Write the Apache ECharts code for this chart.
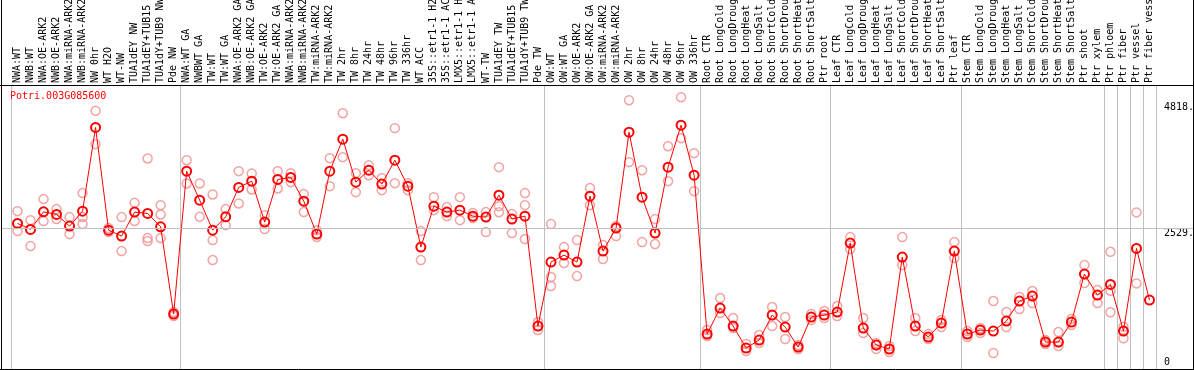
<!DOCTYPE html>
<html>
<head>
<meta charset="utf-8">
<script src="https://cdn.jsdelivr.net/npm/echarts@6/dist/echarts.min.js"></script>
<style>
html,body{margin:0;padding:0;background:#fff;}
#chart{width:1194px;height:370px;}
</style>
</head>
<body>
<div id="chart"></div>
<script>
const geneName = 'Potri.003G085600';

const categories = [
  'NWA:WT','NWB:WT','NWA:OE-ARK2','NWB:OE-ARK2','NWA:miRNA-ARK2','NWB:miRNA-ARK2','NW 0hr','WT H2O','WT-NW','TUA1dEY NW','TUA1dEY+TUB15 NW','TUA1dY+TUB9 NW','Pde NW',
  'NWA:WT GA','NWBWT GA','TW:WT','TW:WT GA','NWA:OE-ARK2 GA','NWB:OE-ARK2 GA','TW:OE-ARK2','TW:OE-ARK2 GA','NWA:miRNA-ARK2 GA','NWB:miRNA-ARK2 GA','TW:miRNA-ARK2','TW:miRNA-ARK2 GA','TW 2hr','TW 8hr','TW 24hr','TW 48hr','TW 96hr','TW 336hr','WT ACC','35S::etr1-1 H2O','35S::etr1-1 ACC','LMX5::etr1-1 H2O','LMX5::etr1-1 ACC','WT-TW','TUA1dEY TW','TUA1dEY+TUB15 TW','TUA1dY+TUB9 TW','Pde TW',
  'OW:WT','OW:WT GA','OW:OE-ARK2','OW:OE-ARK2 GA','OW:miRNA-ARK2','OW:miRNA-ARK2 GA','OW 2hr','OW 8hr','OW 24hr','OW 48hr','OW 96hr','OW 336hr',
  'Root CTR','Root LongCold','Root LongDrought','Root LongHeat','Root LongSalt','Root ShortCold','Root ShortDrought','Root ShortHeat','Root ShortSalt','Ptr root',
  'Leaf CTR','Leaf LongCold','Leaf LongDrought','Leaf LongHeat','Leaf LongSalt','Leaf ShortCold','Leaf ShortDrought','Leaf ShortHeat','Leaf ShortSalt','Ptr leaf',
  'Stem CTR','Stem LongCold','Stem LongDrought','Stem LongHeat','Stem LongSalt','Stem ShortCold','Stem ShortDrought','Stem ShortHeat','Stem ShortSalt','Ptr shoot','Ptr xylem',
  'Ptr phloem','Ptr fiber','Ptr vessel','Ptr fiber vessel'
];

// index of first category of each group (separator lines)
const groupStarts = [0, 13, 41, 53, 63, 73, 84, 85, 86, 87];

const meanValues = [
  2615,2506,2826,2779,2566,2839,4363,2493,2384,2821,2797,2553,965,
  3567,3039,2493,2735,3271,3385,2639,3416,3453,3021,2421,3567,4150,3367,3585,3331,3767,3294,2184,2930,2821,2857,2748,2730,3130,2694,2748,746,
  1911,2038,1911,3112,2111,2530,4277,3094,2439,3640,4404,3494,
  601,1074,746,346,491,946,728,364,910,946,
  1001,2257,710,400,328,2002,746,546,801,2111,
  601,673,655,837,1201,1292,455,455,819,1693,1310,
  1505,655,2160,1219
];

const rep1 = [
  2839,2675,3058,2876,2730,3167,4665,2530,2730,2990,3798,2948,1001,
  3767,3343,3143,2876,3567,3525,2766,3567,3531,3149,2493,3804,4623,3531,3676,3440,4350,3349,2475,3094,2912,3094,2803,2821,3640,2785,3167,819,
  2603,2184,2311,3258,2220,2566,4859,3585,2694,4022,4914,3895,
  673,1256,892,419,582,1092,910,400,965,1019,
  1110,2366,892,437,382,2366,892,601,855,2275,
  655,710,1201,1001,1274,1383,491,637,874,1856,1401,
  2098,733,2816,null
];

const rep2 = [
  2475,2202,2657,2694,2420,2730,4059,2460,2111,2657,2348,2779,928,
  3343,2735,2311,2584,2979,3234,2512,3252,3367,2821,2366,3294,3822,3185,3494,3221,3349,3221,1947,2857,2748,2675,2712,2457,2930,2439,2948,673,
  1638,1893,1656,2948,1966,2384,3731,2275,2239,3385,4168,3203,
  564,983,710,291,437,746,510,328,855,892,
  928,2148,619,328,273,1856,655,510,728,1984,
  546,619,255,728,1056,1165,419,382,764,1529,1165,
  1389,522,1523,null
];

const rep3 = [
  null,null,null,null,null,2603,null,null,null,null,2293,2348,null,
  null,null,1947,null,null,null,null,null,null,null,null,null,null,null,null,null,null,null,null,null,null,null,null,null,2820,null,2330,null,
  1474,null,null,null,null,null,null,null,null,null,null,null,
  null,null,null,null,null,null,null,null,null,null,
  null,null,null,null,null,null,null,null,null,null,
  null,null,null,null,null,null,null,null,null,null,null,
  996,null,null,null
];

const yTopLabels = [2529, 4818];
const yBottomLabels = [0];
const refLineValue = 2529;

const FONT = 'DejaVu Sans Mono';
const Y_MIN = -36, Y_MAX = 5136;
const isGroupStart = (idx) => groupStarts.indexOf(idx) >= 0;

const chart = echarts.init(document.getElementById('chart'), null, {renderer: 'canvas'});

const repStyle = {
  type: 'scatter',
  symbol: 'circle',
  symbolSize: 9,
  itemStyle: {color: 'transparent', borderColor: '#f08c8c', borderWidth: 1.5},
  z: 2,
  silent: true
};

chart.setOption({
  animation: false,
  backgroundColor: '#fff',
  title: {
    text: geneName,
    left: 10, top: 91, padding: 0,
    textStyle: {color: '#ff0000', fontFamily: FONT, fontSize: 10, fontWeight: 'normal'}
  },
  grid: [
    {left: 11, right: 38, top: 85, bottom: 1, containLabel: false, outerBoundsMode: 'none'},
    {left: 1, right: 1, top: 85, bottom: 1, containLabel: false, outerBoundsMode: 'none'}
  ],
  xAxis: [
    {
      type: 'category',
      gridIndex: 0,
      position: 'top',
      data: categories,
      boundaryGap: true,
      axisLine: {show: false},
      axisTick: {show: true, inside: false, length: 85, interval: isGroupStart,
        lineStyle: {color: '#c0c0c0', width: 1}},
      splitLine: {show: true, interval: isGroupStart,
        lineStyle: {color: '#c0c0c0', width: 1}},
      axisLabel: {
        interval: 0, rotate: 90, margin: 2, align: 'left', verticalAlign: 'middle',
        fontFamily: FONT, fontSize: 10, color: '#000'
      }
    },
    {type: 'value', gridIndex: 1, min: 0, max: 1, show: false}
  ],
  yAxis: [
    {
      type: 'value', gridIndex: 0, position: 'right', min: Y_MIN, max: Y_MAX,
      axisLine: {show: false}, axisTick: {show: false}, splitLine: {show: false},
      axisLabel: {customValues: yTopLabels, formatter: v => v + '.', verticalAlign: 'top',
        margin: 8, fontFamily: FONT, fontSize: 10, color: '#000'}
    },
    {
      type: 'value', gridIndex: 0, position: 'right', min: Y_MIN, max: Y_MAX,
      axisLine: {show: false}, axisTick: {show: false}, splitLine: {show: false},
      axisLabel: {customValues: yBottomLabels, formatter: v => String(v), verticalAlign: 'bottom',
        margin: 8, fontFamily: FONT, fontSize: 10, color: '#000'}
    },
    {type: 'value', gridIndex: 1, min: Y_MIN, max: Y_MAX, show: false}
  ],
  series: [
    {
      type: 'line', xAxisIndex: 1, yAxisIndex: 2, data: [], showSymbol: false, silent: true, z: 1,
      markLine: {
        silent: true, symbol: 'none', animation: false,
        label: {show: false},
        lineStyle: {color: '#c0c0c0', width: 1, type: 'solid'},
        data: [{yAxis: refLineValue}]
      }
    },
    Object.assign({data: rep1, xAxisIndex: 0, yAxisIndex: 0}, repStyle),
    Object.assign({data: rep2, xAxisIndex: 0, yAxisIndex: 0}, repStyle),
    Object.assign({data: rep3, xAxisIndex: 0, yAxisIndex: 0}, repStyle),
    {
      type: 'line', xAxisIndex: 0, yAxisIndex: 0,
      data: meanValues,
      symbol: 'circle', symbolSize: 9, showAllSymbol: true,
      itemStyle: {color: 'transparent', borderColor: '#ff0000', borderWidth: 2},
      lineStyle: {color: '#ff0000', width: 1},
      z: 3, silent: true
    }
  ],
  graphic: [
    {type: 'line', shape: {x1: 1.5, y1: 0, x2: 1.5, y2: 370}, style: {stroke: '#000', lineWidth: 1}, z: 100},
    {type: 'line', shape: {x1: 1193.5, y1: 0, x2: 1193.5, y2: 370}, style: {stroke: '#000', lineWidth: 1}, z: 100},
    {type: 'line', shape: {x1: 0, y1: 369.5, x2: 1194, y2: 369.5}, style: {stroke: '#000', lineWidth: 1}, z: 100},
    {type: 'line', shape: {x1: 0, y1: 85.5, x2: 1194, y2: 85.5}, style: {stroke: '#000', lineWidth: 1}, z: 100}
  ]
});
</script>
</body>
</html>
